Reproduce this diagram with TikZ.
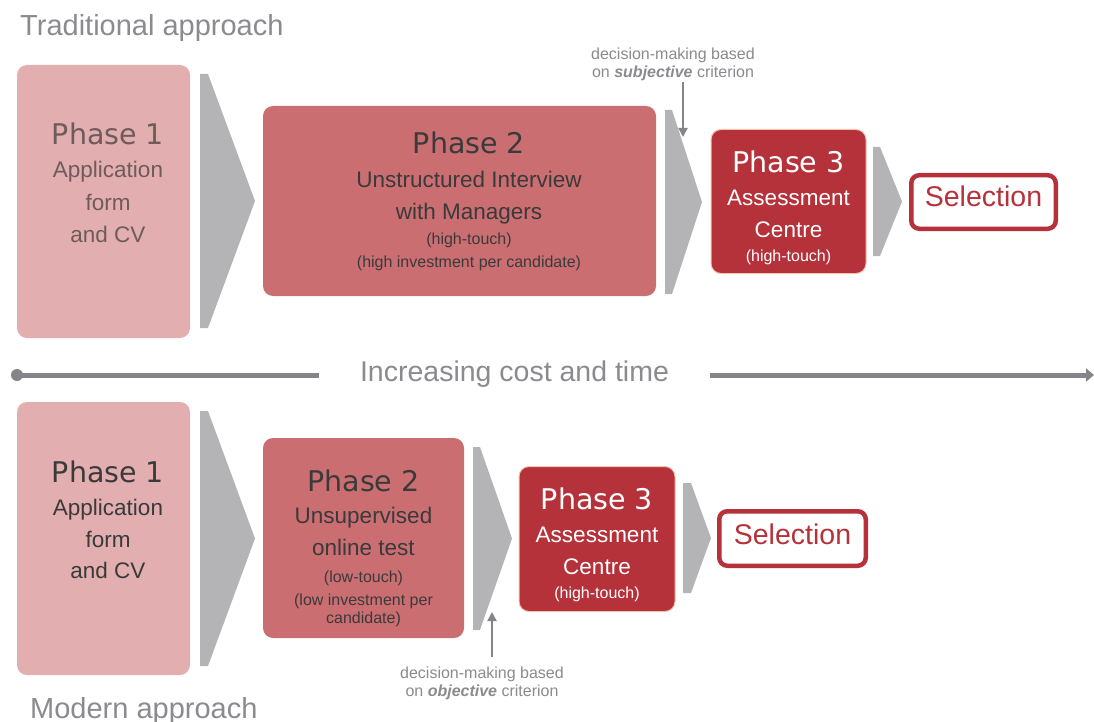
\documentclass[tikz,border=0pt]{standalone}
\usepackage{fontspec}
\setmainfont{Liberation Sans}
\newfontfamily\phasefont{DejaVu Sans}
\usetikzlibrary{arrows.meta}

\definecolor{pOne}{HTML}{E2AEB0}
\definecolor{pTwo}{HTML}{CB6E72}
\definecolor{pThree}{HTML}{B5323A}
\definecolor{pThreeEdge}{HTML}{F0C4AE}
\definecolor{chevgray}{HTML}{B4B4B6}
\definecolor{labelgray}{HTML}{8A8A8F}
\definecolor{linegray}{HTML}{858589}
\definecolor{darktext}{HTML}{3A3A3A}
\definecolor{softtext}{HTML}{6E5B5A}

% chevron: left x, end of flat top, tip x, top y, bottom y
\newcommand\chevronshape[5]{%
  \fill[chevgray] (#1,#4) -- (#2,#4) -- (#3,{(#4+#5)/2}) -- (#2,#5) -- (#1,#5) -- cycle;}

\begin{document}
\begin{tikzpicture}[x=1pt,y=-1pt,
  boxbase/.style={inner sep=0pt, rounded corners=10pt},
  oneBox/.style={boxbase, fill=pOne},
  twoBox/.style={boxbase, fill=pTwo},
  threeBox/.style={boxbase, fill=pThree, draw=pThreeEdge, line width=1pt},
  selBox/.style={inner sep=0pt, rounded corners=8pt, fill=white, draw=pThree, line width=4.5pt},
  phasetxt/.style={font=\phasefont\fontsize{28.5}{30}\selectfont, inner sep=0pt, anchor=base},
  subtxt/.style={font=\fontsize{22.5}{25}\selectfont, inner sep=0pt, anchor=base},
  smalltxt/.style={font=\fontsize{16}{18}\selectfont, inner sep=0pt, anchor=base},
  seltxt/.style={font=\fontsize{28.5}{30}\selectfont, text=pThree, inner sep=0pt, anchor=base},
  headtxt/.style={font=\fontsize{29}{32}\selectfont, text=labelgray, inner sep=0pt, anchor=base west},
  anntxt/.style={font=\fontsize{16}{18}\selectfont, text=labelgray, inner sep=0pt, anchor=base},
  annarrow/.style={draw=linegray, line width=1.8pt, -{Triangle[length=9pt,width=9pt]}},
  scale line/.style={draw=linegray, line width=5pt}
]
\useasboundingbox (0,0) rectangle (1094,722);

% ---------------- traditional approach ----------------
\node[headtxt] (tradtitle) at (20,36) {Traditional approach};

\node[oneBox, minimum width=173pt, minimum height=273pt] (tOne) at (103.5,201.5) {};
\node[phasetxt, text=softtext] (tOneA) at (108,145) {Phase 1};
\node[subtxt, text=softtext] (tOneB) at (108,178) {Application};
\node[subtxt, text=softtext] (tOneC) at (108,211) {form};
\node[subtxt, text=softtext] (tOneD) at (108,242) {and CV};

\chevronshape{200}{208}{255}{74}{328}

\node[twoBox, minimum width=393pt, minimum height=190pt] (tTwo) at (459.5,201) {};
\node[phasetxt, text=darktext] (tTwoA) at (469,154) {Phase 2};
\node[subtxt, text=darktext] (tTwoB) at (469,187) {Unstructured Interview};
\node[subtxt, text=darktext] (tTwoC) at (469,219) {with Managers};
\node[smalltxt, text=darktext] (tTwoD) at (469,244) {(high-touch)};
\node[smalltxt, text=darktext] (tTwoE) at (469,267) {(high investment per candidate)};

\chevronshape{665}{672}{702}{110}{294}

\node[threeBox, minimum width=155pt, minimum height=144pt] (tThree) at (788.5,201.5) {};
\node[phasetxt, text=white] (tThreeA) at (788.5,172) {Phase 3};
\node[subtxt, text=white] (tThreeB) at (788.5,205) {Assessment};
\node[subtxt, text=white] (tThreeC) at (788.5,237) {Centre};
\node[smalltxt, text=white] (tThreeD) at (788.5,261) {(high-touch)};

\chevronshape{873}{880}{902}{147}{256}

\node[selBox, minimum width=144.5pt, minimum height=53.5pt] (tSel) at (983.5,202) {};
\node[seltxt] (tSelText) at (983.5,207) {Selection};

\node[anntxt] (subjA) at (673,60) {decision-making based};
\node[anntxt] (subjB) at (673,78) {on \textbf{\textit{subjective}} criterion};
\coordinate (subjTip) at (683,137);
\draw[annarrow] (subjB.south -| subjTip) -- (subjTip);

% ---------------- cost / time scale ----------------
\node[circle, fill=linegray, inner sep=0pt, minimum size=12pt] (scaleStart) at (17,375) {};
\node[font=\fontsize{28.5}{30}\selectfont, text=labelgray, inner ysep=0pt, inner xsep=41pt, anchor=base] (scaleText) at (514.5,381) {Increasing cost and time};
\coordinate (scaleEnd) at (1094,375);
\draw[scale line] (scaleStart.center) -- (scaleStart -| scaleText.west);
\draw[scale line, -{Triangle[length=8pt,width=13pt]}] (scaleStart -| scaleText.east) -- (scaleEnd);

% ---------------- modern approach ----------------
\node[oneBox, minimum width=173pt, minimum height=273pt] (mOne) at (103.5,538.5) {};
\node[phasetxt, text=darktext] (mOneA) at (108,482) {Phase 1};
\node[subtxt, text=darktext] (mOneB) at (108,515) {Application};
\node[subtxt, text=darktext] (mOneC) at (108,547) {form};
\node[subtxt, text=darktext] (mOneD) at (108,578) {and CV};

\chevronshape{200}{208}{255}{411}{666}

\node[twoBox, minimum width=201pt, minimum height=200pt] (mTwo) at (363.5,538) {};
\node[phasetxt, text=darktext] (mTwoA) at (363.5,491) {Phase 2};
\node[subtxt, text=darktext] (mTwoB) at (363.5,523) {Unsupervised};
\node[subtxt, text=darktext] (mTwoC) at (363.5,555) {online test};
\node[smalltxt, text=darktext] (mTwoD) at (363.5,582) {(low-touch)};
\node[smalltxt, text=darktext] (mTwoE) at (363.5,605) {(low investment per};
\node[smalltxt, text=darktext] (mTwoF) at (363.5,623) {candidate)};

\chevronshape{473}{480}{512}{447}{630}

\node[threeBox, minimum width=156pt, minimum height=145pt] (mThree) at (597,539) {};
\node[phasetxt, text=white] (mThreeA) at (597,509) {Phase 3};
\node[subtxt, text=white] (mThreeB) at (597,542) {Assessment};
\node[subtxt, text=white] (mThreeC) at (597,574) {Centre};
\node[smalltxt, text=white] (mThreeD) at (597,598) {(high-touch)};

\chevronshape{683}{691}{711}{483}{593}

\node[selBox, minimum width=146.5pt, minimum height=54.5pt] (mSel) at (792.5,538.5) {};
\node[seltxt] (mSelText) at (792.5,544) {Selection};

\node[anntxt] (objA) at (482,678) {decision-making based};
\node[anntxt] (objB) at (482,696) {on \textbf{\textit{objective}} criterion};
\coordinate (objTip) at (492,612);
\draw[annarrow, shorten <=9pt] (objA.north -| objTip) -- (objTip);

\node[headtxt] (modtitle) at (30,718) {Modern approach};
\end{tikzpicture}
\end{document}
